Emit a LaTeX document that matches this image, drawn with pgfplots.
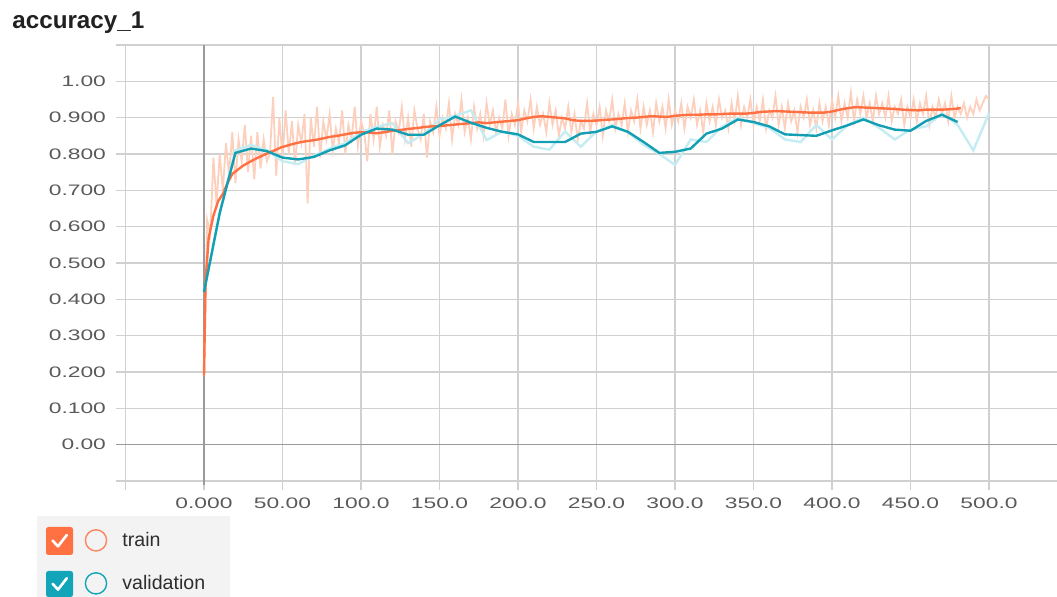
\documentclass[border=0pt]{standalone}
\usepackage{pgfplots}
\pgfplotsset{compat=1.18}
\usepackage{fontspec}
\setmainfont{Liberation Sans}
\newfontfamily\tickfont[FakeStretch=1.5]{Liberation Sans}
\definecolor{trainc}{HTML}{FF7043}
\definecolor{trainraw}{HTML}{FCD0BD}
\definecolor{valc}{HTML}{139FB3}
\definecolor{valraw}{HTML}{C4ECF2}
\definecolor{gridc}{HTML}{D0D0D0}
\definecolor{zeroc}{HTML}{9A9A9A}
\definecolor{tickc}{HTML}{5A5A5A}
\definecolor{legbg}{HTML}{F3F3F3}
\definecolor{checkte}{HTML}{12A5BA}
\begin{document}
\begin{tikzpicture}
\useasboundingbox (0,0) rectangle (528.5pt,298.5pt);
\node[anchor=base west, inner sep=0, font=\bfseries\fontsize{12.1}{14}\selectfont, text=black!87] at (6pt,284pt) {accuracy\_1};
\begin{axis}[
  at={(62.75pt,58pt)}, anchor=south west,
  scale only axis, width=465.75pt, height=218pt,
  xmin=-50, xmax=543.3, ymin=-0.1, ymax=1.1,
  axis line style={draw=none},
  xtick={-50,0,50,100,150,200,250,300,350,400,450,500},
  xticklabels={,0.000,50.00,100.0,150.0,200.0,250.0,300.0,350.0,400.0,450.0,500.0},
  ytick={-0.1,0,0.1,0.2,0.3,0.4,0.5,0.6,0.7,0.8,0.9,1.0,1.1},
  yticklabels={,0.00,0.100,0.200,0.300,0.400,0.500,0.600,0.700,0.800,0.900,1.00,},
  grid=major, major grid style={gridc, line width=0.8pt},
  tick align=outside, tick pos=left, major tick length=4.75pt,
  major tick style={gridc, line width=0.8pt},
  tick label style={font=\tickfont\fontsize{7.6}{8}\selectfont, text=tickc},
  yticklabel style={xshift=-1.5pt},
  clip=false,
]
\draw[zeroc, line width=0.8pt] (axis cs:-56,0) -- (axis cs:543.3,0);
\draw[zeroc, line width=1.3pt] (axis cs:0,-0.112) -- (axis cs:0,1.1);

% raw train
\addplot[trainraw, line width=0.9pt] coordinates {
(0,0.19)(2,0.62)(4,0.58)(6,0.79)(8,0.66)(10,0.80)(12,0.70)(14,0.83)(16,0.74)(18,0.86)
(20,0.72)(22,0.84)(24,0.78)(26,0.88)(28,0.75)(30,0.85)(32,0.73)(34,0.86)(36,0.76)(38,0.84)
(40,0.78)(42,0.80)(44,0.957)(46,0.74)(48,0.90)(50,0.79)(52,0.92)(54,0.80)(56,0.89)(58,0.77)
(60,0.88)(62,0.83)(64,0.91)(66,0.664)(68,0.90)(70,0.82)(72,0.93)(74,0.79)(76,0.89)(78,0.84)
(80,0.91)(82,0.81)(84,0.87)(86,0.83)(88,0.92)(90,0.80)(92,0.88)(94,0.84)(96,0.93)(98,0.82)
(100,0.89)(102,0.86)(104,0.78)(106,0.91)(108,0.84)(110,0.93)(112,0.82)(114,0.88)(116,0.85)(118,0.92)
(120,0.80)(122,0.89)(124,0.86)(126,0.93)(128,0.84)(130,0.90)(132,0.82)(134,0.92)(136,0.87)(138,0.84)
(140,0.91)(142,0.79)(144,0.89)(146,0.86)(148,0.93)(150,0.85)(152,0.90)(154,0.87)(156,0.94)(158,0.84)
(160,0.91)(162,0.88)(164,0.95)(166,0.86)(168,0.90)(170,0.84)(172,0.93)(174,0.87)(176,0.91)(178,0.85)
(180,0.94)(182,0.88)(184,0.92)(186,0.86)(188,0.90)(190,0.87)(192,0.95)(194,0.85)(196,0.91)(198,0.88)
(200,0.94)(202,0.86)(204,0.92)(206,0.89)(208,0.95)(210,0.87)(212,0.93)(214,0.88)(216,0.91)(218,0.86)
(220,0.94)(222,0.88)(224,0.92)(226,0.85)(228,0.90)(230,0.87)(232,0.93)(234,0.86)(236,0.91)(238,0.84)
(240,0.89)(242,0.87)(244,0.94)(246,0.86)(248,0.91)(250,0.88)(252,0.93)(254,0.85)(256,0.92)(258,0.89)
(260,0.95)(262,0.87)(264,0.91)(266,0.88)(268,0.94)(270,0.86)(272,0.92)(274,0.89)(276,0.95)(278,0.87)
(280,0.93)(282,0.88)(284,0.92)(286,0.86)(288,0.94)(290,0.89)(292,0.93)(294,0.87)(296,0.95)(298,0.88)
(300,0.92)(302,0.89)(304,0.94)(306,0.87)(308,0.93)(310,0.90)(312,0.95)(314,0.88)(316,0.92)(318,0.86)
(320,0.94)(322,0.89)(324,0.93)(326,0.88)(328,0.95)(330,0.90)(332,0.92)(334,0.87)(336,0.94)(338,0.89)
(340,0.96)(342,0.88)(344,0.93)(346,0.90)(348,0.95)(350,0.88)(352,0.93)(354,0.89)(356,0.95)(358,0.87)
(360,0.92)(362,0.90)(364,0.96)(366,0.88)(368,0.93)(370,0.87)(372,0.94)(374,0.89)(376,0.92)(378,0.86)
(380,0.93)(382,0.90)(384,0.95)(386,0.88)(388,0.92)(390,0.87)(392,0.94)(394,0.89)(396,0.93)(398,0.88)
(400,0.95)(402,0.90)(404,0.96)(406,0.89)(408,0.94)(410,0.90)(412,0.97)(414,0.89)(416,0.95)(418,0.91)
(420,0.96)(422,0.90)(424,0.94)(426,0.89)(428,0.96)(430,0.91)(432,0.94)(434,0.90)(436,0.96)(438,0.89)
(440,0.93)(442,0.91)(444,0.95)(446,0.88)(448,0.93)(450,0.90)(452,0.95)(454,0.89)(456,0.94)(458,0.91)
(460,0.96)(462,0.88)(464,0.93)(466,0.90)(468,0.95)(470,0.91)(472,0.94)(474,0.89)(476,0.96)(478,0.90)
(480,0.93)(482,0.91)(484,0.94)(486,0.90)(488,0.93)(490,0.91)(492,0.95)(494,0.92)(496,0.94)(498,0.96)(500,0.95)
};
% raw validation
\addplot[valraw, line width=1.2pt] coordinates {
(0,0.42)(10,0.64)(20,0.81)(30,0.825)(40,0.81)(50,0.78)(60,0.772)(70,0.795)(80,0.815)(90,0.83)
(100,0.86)(110,0.875)(120,0.885)(130,0.83)(140,0.855)(150,0.895)(160,0.905)(170,0.92)(180,0.838)(190,0.862)
(200,0.85)(210,0.82)(220,0.812)(230,0.862)(240,0.82)(250,0.862)(260,0.88)(270,0.86)(280,0.825)(290,0.80)
(300,0.77)(310,0.84)(320,0.833)(330,0.875)(340,0.90)(350,0.885)(360,0.872)(370,0.84)(380,0.833)(390,0.88)
(400,0.84)(410,0.88)(420,0.90)(430,0.872)(440,0.84)(450,0.868)(460,0.876)(470,0.912)(480,0.88)(490,0.81)(500,0.912)
};
% smoothed train
\addplot[trainc, line width=1.2pt] coordinates {
(0,0.19)(1,0.45)(3,0.57)(6,0.63)(9,0.67)(12,0.69)(15,0.72)(18,0.745)(21,0.755)(25,0.768)
(29,0.778)(33,0.787)(37,0.795)(41,0.803)(45,0.81)(49,0.818)(53,0.823)(57,0.828)(61,0.832)(65,0.835)
(70,0.838)(75,0.842)(80,0.847)(85,0.85)(90,0.854)(95,0.858)(100,0.86)(105,0.859)(110,0.857)(115,0.86)
(120,0.864)(125,0.866)(130,0.869)(135,0.871)(140,0.874)(145,0.876)(150,0.877)(155,0.879)(160,0.881)(165,0.883)
(170,0.885)(175,0.887)(180,0.885)(185,0.887)(190,0.889)(195,0.891)(200,0.893)(205,0.898)(210,0.902)(215,0.904)
(220,0.902)(225,0.90)(230,0.898)(235,0.893)(240,0.891)(245,0.891)(250,0.892)(255,0.894)(260,0.895)(265,0.897)
(270,0.899)(275,0.90)(280,0.902)(285,0.904)(290,0.903)(295,0.902)(300,0.905)(305,0.907)(310,0.908)(315,0.908)
(320,0.909)(325,0.909)(330,0.91)(335,0.911)(340,0.911)(345,0.911)(350,0.913)(355,0.916)(360,0.917)(365,0.918)
(370,0.917)(375,0.916)(380,0.915)(385,0.914)(390,0.914)(395,0.914)(400,0.917)(405,0.922)(410,0.926)(415,0.929)
(420,0.928)(425,0.927)(430,0.926)(435,0.925)(440,0.924)(445,0.922)(450,0.921)(455,0.92)(460,0.922)(465,0.922)
(470,0.922)(475,0.923)(480,0.925)(482,0.927)
};
% smoothed validation
\addplot[valc, line width=1.2pt] coordinates {
(0,0.42)(10,0.637)(20,0.803)(30,0.815)(40,0.808)(50,0.79)(60,0.785)(70,0.792)(80,0.81)(90,0.824)
(100,0.853)(110,0.87)(120,0.867)(130,0.853)(140,0.853)(150,0.879)(160,0.903)(170,0.886)(180,0.872)(190,0.861)
(200,0.854)(210,0.833)(220,0.833)(230,0.833)(240,0.856)(250,0.861)(260,0.876)(270,0.861)(280,0.833)(290,0.803)
(300,0.806)(310,0.815)(320,0.856)(330,0.87)(340,0.895)(350,0.888)(360,0.876)(370,0.854)(380,0.852)(390,0.85)
(400,0.865)(410,0.879)(420,0.895)(430,0.879)(440,0.867)(450,0.864)(460,0.891)(470,0.908)(480,0.888)
};
\end{axis}
% legend panel
\fill[legbg] (18.5pt,0pt) rectangle (115pt,40.5pt);
\fill[trainc, rounded corners=1.2pt] (23pt,21pt) rectangle (36.5pt,35pt);
\draw[white, line width=1.3pt, line cap=round, line join=round] (26.3pt,28.2pt) -- (29pt,25.3pt) -- (33.4pt,31pt);
\draw[trainc!85, line width=0.7pt] (48pt,28.3pt) circle (5.3pt);
\node[anchor=base west, inner sep=0, font=\fontsize{9.8}{11}\selectfont, text=black!82] at (61pt,25.4pt) {train};
\fill[checkte, rounded corners=1.2pt] (23pt,0pt) rectangle (36.5pt,13pt);
\draw[white, line width=1.3pt, line cap=round, line join=round] (26.3pt,6.6pt) -- (29pt,3.7pt) -- (33.4pt,9.4pt);
\draw[checkte, line width=0.7pt] (48pt,6.8pt) circle (5.3pt);
\node[anchor=base west, inner sep=0, font=\fontsize{9.8}{11}\selectfont, text=black!82] at (61pt,3.6pt) {validation};
\end{tikzpicture}
\end{document}
